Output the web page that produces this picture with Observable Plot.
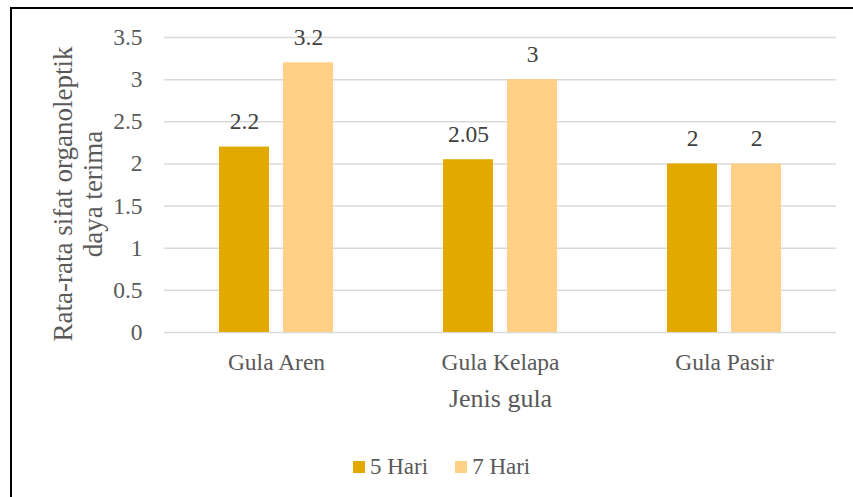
<!DOCTYPE html>
<html>
<head>
<meta charset="utf-8">
<script src="https://cdn.jsdelivr.net/npm/d3@7"></script>
<script src="https://cdn.jsdelivr.net/npm/@observablehq/plot@0.6"></script>
<style>
  html, body { margin: 0; padding: 0; background: #fff; overflow: hidden; }
  #wrap { position: relative; width: 853px; height: 497px; }
  #frame { position: absolute; left: 10px; top: 7px; width: 1000px; height: 1000px;
           border-left: 2px solid #000; border-top: 2px solid #000; box-sizing: border-box; pointer-events: none; }
  #chart { position: absolute; left: 0; top: 0; }
  #legend { position: absolute; left: 353px; top: 454px; display: flex; align-items: center;
            font-family: "Liberation Serif", "Times New Roman", serif; font-size: 23px; color: #595959; }
  .item { display: flex; align-items: center; margin-right: 27px; }
  .sw { width: 12px; height: 12px; margin-right: 5px; }
  svg text { font-family: "Liberation Serif", "Times New Roman", serif; }
</style>
</head>
<body>
<div id="wrap">
  <div id="chart"></div>
  <div id="legend"></div>
  <div id="frame"></div>
</div>
<script>
const categories = ["Gula Aren", "Gula Kelapa", "Gula Pasir"];
const seriesNames = ["5 Hari", "7 Hari"];
const values5Hari = [2.2, 2.05, 2];
const values7Hari = [3.2, 3, 2];
const yTicks = [0, 0.5, 1, 1.5, 2, 2.5, 3, 3.5];
const seriesColors = ["#E2AA00", "#FFD086"];
const yTitle = "Rata-rata sifat organoleptik\ndaya terima";
const xTitle = "Jenis gula";

const data = categories.flatMap((c, i) => [
  {cat: c, series: seriesNames[0], value: values5Hari[i]},
  {cat: c, series: seriesNames[1], value: values7Hari[i]}
]);

const chart = Plot.plot({
  width: 853,
  height: 420,
  marginTop: 37,
  marginBottom: 88,
  marginLeft: 164,
  marginRight: 17,
  style: {fontFamily: "Liberation Serif, Times New Roman, serif", fontSize: "23.5px", color: "#595959", background: "transparent", overflow: "visible"},
  fx: {domain: categories, padding: 0, label: null, axis: "bottom", tickSize: 0, tickPadding: 21},
  x: {domain: seriesNames, paddingInner: 0.21875, paddingOuter: 0.859375, axis: null},
  y: {domain: [0, 3.5], ticks: yTicks, tickSize: 0, tickPadding: 22, label: null, tickFormat: d => String(d)},
  color: {domain: seriesNames, range: seriesColors},
  marks: [
    Plot.gridY(yTicks, {stroke: "#d9d9d9", strokeOpacity: 1, strokeWidth: 1.5}),
    Plot.barY(data, {fx: "cat", x: "series", y: "value", fill: "series"}),
    Plot.text(data, {fx: "cat", x: "series", y: "value", text: d => String(d.value),
      lineAnchor: "bottom", dy: -18, fill: "#404040", fontSize: 23.5}),
    Plot.text([yTitle], {fx: () => categories[0], frameAnchor: "left", rotate: -90,
      dx: -87, dy: 9, fontSize: 27, lineHeight: 1.11, textAnchor: "middle", lineAnchor: "middle", fill: "#595959"}),
    Plot.text([xTitle], {fx: () => categories[1], frameAnchor: "bottom", dy: 66,
      fontSize: 26, lineAnchor: "middle", fill: "#595959"})
  ]
});
document.getElementById("chart").appendChild(chart);

const legend = document.getElementById("legend");
seriesNames.forEach((name, i) => {
  const item = document.createElement("div");
  item.className = "item";
  const sw = document.createElement("div");
  sw.className = "sw";
  sw.style.background = seriesColors[i];
  const label = document.createElement("span");
  label.textContent = name;
  item.appendChild(sw);
  item.appendChild(label);
  legend.appendChild(item);
});
</script>
</body>
</html>
